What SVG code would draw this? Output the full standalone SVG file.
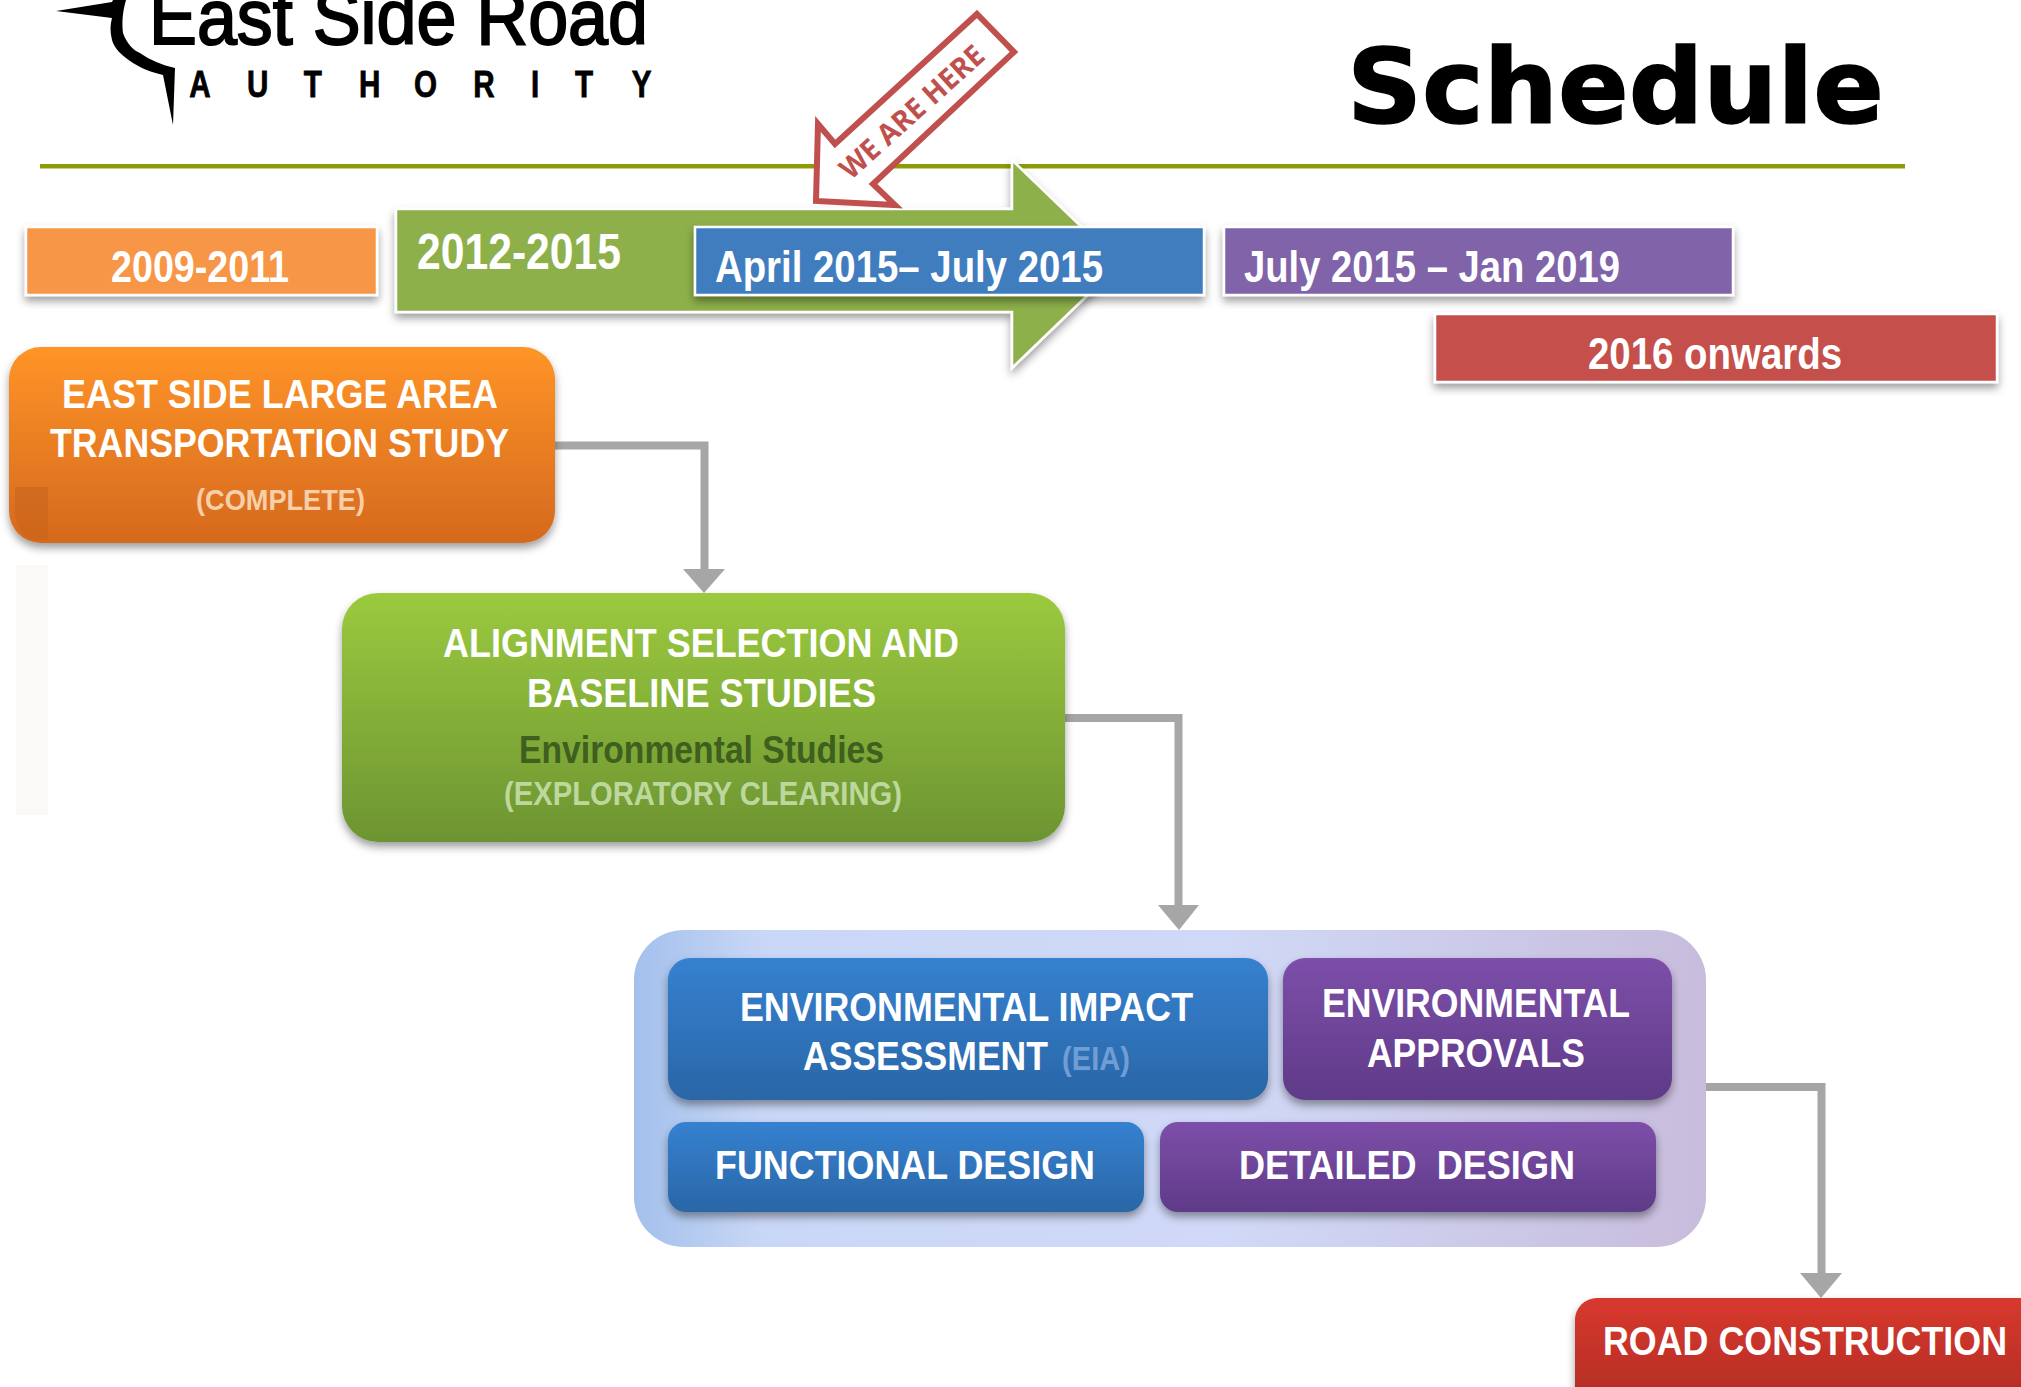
<svg xmlns="http://www.w3.org/2000/svg" width="2021" height="1387" viewBox="0 0 2021 1387">
<style>
text{font-family:"Liberation Sans",Arial,sans-serif;font-weight:700;fill:#fff}
.box{font-size:40px}.date{font-size:45px}.sub{font-size:30px}
.bar{stroke:#fff;stroke-width:2.5;filter:url(#sh)}
.node{filter:url(#sh)}
.conn{fill:none;stroke:#a6a6a6;stroke-width:8}
.head{fill:#a6a6a6;stroke:none}
</style>
<defs>
<filter id="sh" x="-10%" y="-10%" width="120%" height="130%"><feDropShadow dx="0" dy="5" stdDeviation="4" flood-color="#000" flood-opacity=".38"/></filter>
<linearGradient id="gO" x1="0" y1="0" x2="0" y2="1"><stop offset="0" stop-color="#ff9428"/><stop offset="1" stop-color="#d5691e"/></linearGradient>
<linearGradient id="gG" x1="0" y1="0" x2="0" y2="1"><stop offset="0" stop-color="#9bca3e"/><stop offset="1" stop-color="#6c9432"/></linearGradient>
<linearGradient id="gB" x1="0" y1="0" x2="0" y2="1"><stop offset="0" stop-color="#3581d0"/><stop offset="1" stop-color="#2a66a6"/></linearGradient>
<linearGradient id="gP" x1="0" y1="0" x2="0" y2="1"><stop offset="0" stop-color="#7d4fa9"/><stop offset="1" stop-color="#5f3a88"/></linearGradient>
<linearGradient id="gR" x1="0" y1="0" x2="0" y2="1"><stop offset="0" stop-color="#d8392e"/><stop offset="1" stop-color="#a92a22"/></linearGradient>
<linearGradient id="gC" x1="0" y1="0" x2="1" y2="0"><stop offset="0" stop-color="#a3c0ec"/><stop offset=".12" stop-color="#c9d7f6"/><stop offset=".55" stop-color="#d0d9f7"/><stop offset="1" stop-color="#c8bcdc"/></linearGradient>
</defs>
<rect width="2021" height="1387" fill="#fff"/>
<rect x="16" y="565" width="32" height="250" fill="#fbf9f7"/>

<g id="logo">
<path d="M56 11L112 2L113 0H126C122 14 122 24 123 33C127 44 133 50 140 53C150 60 162 65 175 68L173 125L163 75C150 72 141 68 133 63C122 56 114 48 112 40C110 32 110 25 112 18Z" fill="#000"/>
<text x="149" y="44" font-size="78" textLength="499" lengthAdjust="spacingAndGlyphs" style="font-weight:400;fill:#000;stroke:#000;stroke-width:2">East Side Road</text>
<text transform="scale(.8 1)" x="250 322 391 462 532 605 669 730 802" y="97" font-size="37" text-anchor="middle" style="fill:#000;stroke:#000;stroke-width:.8">AUTHORITY</text>
</g>
<g id="title"><text x="1347" y="123" font-size="104" textLength="537" lengthAdjust="spacingAndGlyphs" style="font-family:'DejaVu Sans',Verdana,sans-serif;fill:#000;stroke:#000;stroke-width:1.5">Schedule</text></g>
<rect id="rule" x="40" y="164" width="1865" height="4.500" fill="#8f9b06"/>

<g id="bar-2012-2015">
<path class="bar" d="M396 209H1012V160L1120 264L1012 368V312H396Z" fill="#8db04c"/>
<text x="417" y="269" style="font-size:50px" textLength="204" lengthAdjust="spacingAndGlyphs">2012-2015</text>
</g>
<g id="bar-2009-2011">
<rect class="bar" x="26" y="227" width="351" height="68" fill="#f79646"/>
<text class="date" x="111" y="282" textLength="178" lengthAdjust="spacingAndGlyphs">2009-2011</text>
</g>
<g id="bar-apr-2015">
<rect class="bar" x="695" y="227" width="509" height="68" fill="#3f7dbf"/>
<text class="date" x="715" y="282" textLength="388" lengthAdjust="spacingAndGlyphs">April 2015– July 2015</text>
</g>
<g id="bar-jul-2015">
<rect class="bar" x="1224" y="227" width="509" height="68" fill="#8064a8"/>
<text class="date" x="1244" y="282" textLength="376" lengthAdjust="spacingAndGlyphs">July 2015 – Jan 2019</text>
</g>
<g id="bar-2016">
<rect class="bar" x="1435" y="314" width="562" height="68" fill="#c44f4c"/>
<text class="date" x="1588" y="369" textLength="254" lengthAdjust="spacingAndGlyphs">2016 onwards</text>
</g>

<g id="we-are-here">
<path d="M977 14L1014 52L873 184L895 205L816 201L818 124L835 144Z" fill="#fff" stroke="#c0504d" stroke-width="6"/>
<text transform="translate(912 112) rotate(-42)" text-anchor="middle" y="10" font-size="29" textLength="183" lengthAdjust="spacingAndGlyphs" style="font-family:'Open Sans',sans-serif;font-weight:700;fill:#c0504d">WE ARE HERE</text>
</g>

<g id="connectors">
<path class="conn" d="M554 445.500H704.500V572"/>
<path class="head" d="M683 569H725L704 593Z"/>
<path class="conn" d="M1065 718H1178.500V908"/>
<path class="head" d="M1158 905H1199L1179 930Z"/>
<path class="conn" d="M1706 1087H1821.500V1276"/>
<path class="head" d="M1800 1273H1842L1821 1298Z"/>
</g>

<g id="node-study">
<rect class="node" x="9" y="347" width="546" height="196" rx="32" fill="url(#gO)"/>
<path d="M15 487H48V540H34Q18 535 15 515Z" fill="#c8641a" opacity=".6"/>
<text class="box" x="62" y="408" textLength="436" lengthAdjust="spacingAndGlyphs">EAST SIDE LARGE AREA</text>
<text class="box" x="50" y="457" textLength="459" lengthAdjust="spacingAndGlyphs">TRANSPORTATION STUDY</text>
<text class="sub" x="196" y="510" textLength="169" lengthAdjust="spacingAndGlyphs" style="fill:#f7cfa8">(COMPLETE)</text>
</g>
<g id="node-alignment">
<rect class="node" x="342" y="593" width="723" height="249" rx="36" fill="url(#gG)"/>
<text class="box" x="443" y="657" textLength="516" lengthAdjust="spacingAndGlyphs">ALIGNMENT SELECTION AND</text>
<text class="box" x="527" y="707" textLength="349" lengthAdjust="spacingAndGlyphs">BASELINE STUDIES</text>
<text x="519" y="763" font-size="38" textLength="365" lengthAdjust="spacingAndGlyphs" style="fill:#3f5f1f">Environmental Studies</text>
<text class="sub" x="504" y="805" textLength="398" lengthAdjust="spacingAndGlyphs" style="fill:#bdd79c;font-size:33px">(EXPLORATORY CLEARING)</text>
</g>
<g id="group-design">
<rect x="634" y="930" width="1072" height="317" rx="50" fill="url(#gC)"/>
</g>
<g id="node-eia">
<rect class="node" x="668" y="958" width="600" height="142" rx="22" fill="url(#gB)"/>
<text class="box" x="740" y="1021" textLength="453" lengthAdjust="spacingAndGlyphs">ENVIRONMENTAL IMPACT</text>
<text class="box" x="803" y="1070" textLength="245" lengthAdjust="spacingAndGlyphs">ASSESSMENT</text>
<text class="sub" x="1062" y="1070" textLength="68" lengthAdjust="spacingAndGlyphs" style="fill:#6f9dd6;font-size:33px">(EIA)</text>
</g>
<g id="node-approvals">
<rect class="node" x="1283" y="958" width="389" height="142" rx="22" fill="url(#gP)"/>
<text class="box" x="1322" y="1017" textLength="308" lengthAdjust="spacingAndGlyphs">ENVIRONMENTAL</text>
<text class="box" x="1367" y="1067" textLength="218" lengthAdjust="spacingAndGlyphs">APPROVALS</text>
</g>
<g id="node-functional">
<rect class="node" x="668" y="1122" width="476" height="90" rx="18" fill="url(#gB)"/>
<text class="box" x="715" y="1179" textLength="380" lengthAdjust="spacingAndGlyphs">FUNCTIONAL DESIGN</text>
</g>
<g id="node-detailed">
<rect class="node" x="1160" y="1122" width="496" height="90" rx="18" fill="url(#gP)"/>
<text class="box" x="1239" y="1179" textLength="336" lengthAdjust="spacingAndGlyphs" xml:space="preserve">DETAILED  DESIGN</text>
</g>
<g id="node-road">
<rect class="node" x="1575" y="1298" width="482" height="130" rx="22" fill="url(#gR)"/>
<text class="box" x="1603" y="1355" textLength="404" lengthAdjust="spacingAndGlyphs">ROAD CONSTRUCTION</text>
</g>
</svg>
